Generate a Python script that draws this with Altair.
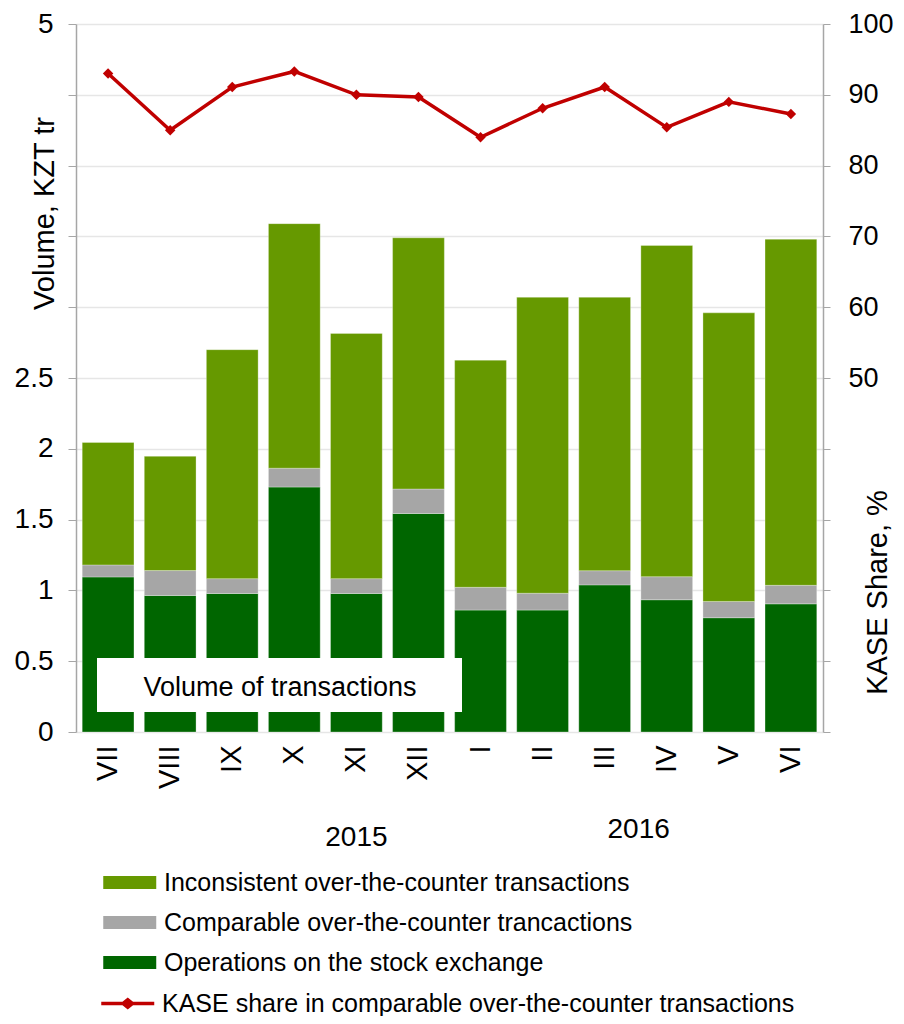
import altair as alt
import pandas as pd

FONT = "Liberation Sans"

months = ["VII", "VIII", "IX", "X", "XI", "XII", "I", "II", "III", "IV", "V", "VI"]
stock = [1.095, 0.964, 0.978, 1.730, 0.978, 1.543, 0.861, 0.861, 1.039, 0.934, 0.807, 0.905]
comparable = [0.085, 0.176, 0.105, 0.133, 0.105, 0.173, 0.161, 0.119, 0.100, 0.163, 0.115, 0.131]
inconsistent = [0.865, 0.807, 1.617, 1.727, 1.732, 1.774, 1.604, 2.090, 1.931, 2.339, 2.038, 2.444]
kase_share = [93.0, 85.0, 91.1, 93.3, 90.0, 89.7, 84.0, 88.1, 91.1, 85.4, 89.0, 87.3]

series_names = [
    "Inconsistent over-the-counter transactions",
    "Comparable over-the-counter trancactions",
    "Operations on the stock exchange",
]
series_colors = ["#669900", "#A6A6A6", "#006600"]
line_name = "KASE share in comparable over-the-counter transactions"
line_color = "#C00000"

left_ticks = [0, 0.5, 1, 1.5, 2, 2.5, 3, 3.5, 4, 4.5, 5]
right_ticks = [0, 10, 20, 30, 40, 50, 60, 70, 80, 90, 100]

rows = []
for i, m in enumerate(months):
    for name, vals, order in [
        (series_names[2], stock, 0),
        (series_names[1], comparable, 1),
        (series_names[0], inconsistent, 2),
    ]:
        rows.append({"month": m, "series": name, "value": vals[i], "stack": order})
bars_df = pd.DataFrame(rows)
line_df = pd.DataFrame({"month": months, "share": kase_share, "series": line_name})

x_enc = alt.X(
    "month:N",
    sort=months,
    scale=alt.Scale(domain=months, paddingInner=0.166, paddingOuter=0.1),
    axis=alt.Axis(
        title=None, labelAngle=270, labelFontSize=29, labelPadding=13,
        domain=False, ticks=False, labelColor="black", labelFont=FONT,
    ),
)

bars = alt.Chart(bars_df).mark_bar(
    stroke="white", strokeWidth=0.6, strokeOpacity=0.5
).encode(
    x=x_enc,
    y=alt.Y(
        "value:Q",
        stack="zero",
        scale=alt.Scale(domain=[0, 5], nice=False),
        axis=alt.Axis(
            orient="left",
            values=left_ticks, format="~g",
            labelExpr="(datum.value > 2.6 && datum.value < 4.9) ? '' : datum.label",
            title="Volume, KZT tr", titleFontSize=29, titleFontWeight="normal",
            titleAngle=270, titleX=-23, titleY=189, titleAlign="center",
            titleBaseline="alphabetic", titleColor="black", titleFont=FONT,
            labelFontSize=28, labelPadding=15, labelColor="black", labelFont=FONT,
            tickSize=8, tickColor="#A6A6A6", domainColor="#A6A6A6", domainWidth=1.5,
            grid=True, gridColor="#E6E6E6", gridWidth=1.5,
        ),
    ),
    color=alt.Color(
        "series:N",
        scale=alt.Scale(domain=series_names, range=series_colors),
        legend=alt.Legend(
            title=None, orient="none", legendX=27, legendY=845, direction="vertical",
            symbolType="M-1,-0.5H3V0.5H-1Z", symbolSize=702, symbolStrokeWidth=0,
            labelFontSize=25, labelFont=FONT, labelColor="black", labelOffset=34,
            rowPadding=13, padding=0, labelLimit=800,
        ),
    ),
    order=alt.Order("stack:Q", sort="ascending"),
)

box_df = pd.DataFrame({"t": ["Volume of transactions"]})
box = alt.Chart(box_df).mark_rect(color="white").encode(
    x=alt.value(21), x2=alt.value(386), y=alt.value(634), y2=alt.value(688)
)
box_text = alt.Chart(box_df).mark_text(
    fontSize=27, font=FONT, color="black", baseline="middle", align="center"
).encode(x=alt.value(204), y=alt.value(664), text="t:N")

y2015 = alt.Chart(pd.DataFrame({"month": ["XI"], "year": ["2015"]})).mark_text(
    fontSize=28, font=FONT, color="black", baseline="middle"
).encode(x=x_enc, y=alt.value(814), text="year:N")
y2016 = alt.Chart(pd.DataFrame({"month": ["III"], "year": ["2016"]})).mark_text(
    fontSize=28, font=FONT, color="black", baseline="middle", dx=34
).encode(x=x_enc, y=alt.value(806), text="year:N")

right_axis = alt.Axis(
    orient="right", values=right_ticks,
    labelExpr="datum.value < 45 ? '' : datum.label",
    title="KASE Share, %", titleFontSize=29, titleFontWeight="normal",
    titleAngle=270, titleX=63, titleY=568, titleAlign="center",
    titleBaseline="alphabetic", titleColor="black", titleFont=FONT,
    labelFontSize=27, labelPadding=18, labelColor="black", labelFont=FONT,
    tickSize=7, tickColor="#A6A6A6", domainColor="#A6A6A6", domainWidth=1.5,
    grid=False,
)

line = alt.Chart(line_df).mark_line(color=line_color, strokeWidth=3.5).encode(
    x=x_enc,
    y=alt.Y("share:Q", scale=alt.Scale(domain=[0, 100], nice=False), axis=right_axis),
)
points = alt.Chart(line_df).mark_point(
    shape="diamond", filled=True, size=110, opacity=1
).encode(
    x=x_enc,
    y=alt.Y("share:Q", scale=alt.Scale(domain=[0, 100], nice=False), axis=None),
    color=alt.Color(
        "series:N",
        scale=alt.Scale(domain=[line_name], range=[line_color]),
        legend=alt.Legend(
            title=None, orient="none", legendX=25, legendY=966, direction="vertical",
            symbolType="M-1,-0.13H0.6L1,-0.45L1.4,-0.13H3V0.13H1.4L1,0.45L0.6,0.13H-1Z",
            symbolSize=702, symbolStrokeWidth=0, symbolOpacity=1,
            labelFontSize=25, labelFont=FONT, labelColor="black", labelOffset=34,
            padding=0, labelLimit=800,
        ),
    ),
)

chart = alt.layer(
    bars, box, box_text, y2015, y2016, line, points
).resolve_scale(
    y="independent", color="independent"
).properties(
    width=747,
    height=708,
    padding={"left": 68, "top": 16, "right": 73, "bottom": 284},
    autosize=alt.AutoSizeParams(type="none"),
).configure_view(stroke=None)

chart.save("out.html", embed_options={"renderer": "svg", "actions": False})
